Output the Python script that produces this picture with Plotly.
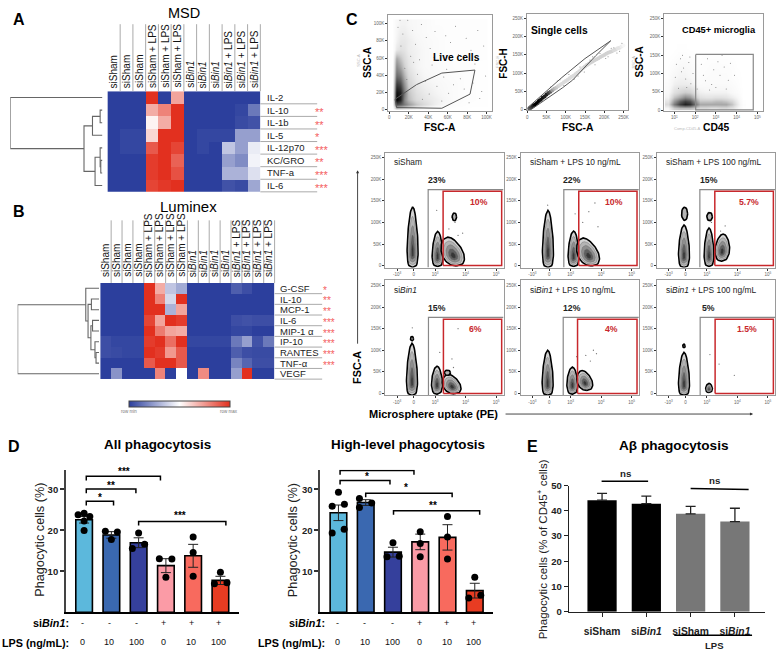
import math
import plotly.graph_objects as go

W, H = 777, 656
FONT = "Liberation Sans"

# ---------- DATA ----------
msd_rows = ["IL-2", "IL-10", "IL-1b", "IL-5", "IL-12p70", "KC/GRO", "TNF-a", "IL-6"]
msd_stars = ["", "**", "**", "*", "***", "**", "***", "***"]
msd_cols = ["siSham"] * 3 + ["siSham + LPS"] * 3 + ["si<i>Bin1</i>"] * 3 + ["si<i>Bin1</i> + LPS"] * 3
msd_z = [
    [0, 0, 0, 1, 0, .72, 0, 0, 0, 0, 0, 0],
    [0, 0, 0, .7, .8, 1, 0, 0, 0, 0, .02, .15],
    [0, 0, 0, .53, .7, 1, 0, 0, 0, 0, .03, .05],
    [0, .02, .02, .6, 1, 1, 0, .02, .02, .02, .25, .25],
    [0, .02, .02, .9, 1, .95, 0, .02, 0, .35, .25, .45],
    [0, 0, 0, .97, 1, .88, 0, 0, 0, .25, .2, .47],
    [0, 0, 0, .97, 1, .92, 0, 0, 0, .3, .3, .42],
    [0, 0, 0, .95, .98, 1, 0, 0, 0, .05, .03, .27],
]
msd_tree = (1.0, 0, (.2, (.108, (.025, 1, 2), 3), (.08, (.025, 4, (.018, 5, 6)), 7)))

lum_rows = ["G-CSF", "IL-10", "MCP-1", "IL-6", "MIP-1 α", "IP-10", "RANTES", "TNF-α", "VEGF"]
lum_stars = ["*", "**", "**", "***", "***", "***", "***", "***", ""]
lum_cols = ["siSham"] * 4 + ["siSham + LPS"] * 4 + ["si<i>Bin1</i>"] * 4 + ["si<i>Bin1</i> + LPS"] * 4
lum_z = [
    [0, 0, 0, 0, 1, .7, .35, .28, 0, 0, 0, 0, .08, .04, 0, 0],
    [0, 0, 0, 0, 1, .8, .4, 1, 0, 0, 0, 0, 0, 0, 0, 0],
    [0, 0, 0, 0, 1, 1, .3, .72, 0, 0, 0, 0, 0, 0, 0, 0],
    [0, 0, 0, 0, .95, .72, 1, .97, 0, 0, 0, 0, .04, .05, .04, .04],
    [0, 0, 0, 0, 1, .82, .72, .7, 0, 0, 0, 0, .02, .02, 0, 0],
    [.04, .02, .02, .02, .97, 1, .85, 1, .02, .02, .02, .02, .15, .25, .05, .15],
    [.04, .03, .02, .02, 1, .97, .75, .9, 0, 0, 0, 0, .08, .04, .03, .03],
    [0, 0, 0, 0, .9, 1, 1, .9, 0, 0, 0, 0, .18, .1, .04, .04],
    [0, .22, 0, 0, 0, .8, 0, .5, 0, .78, 0, 0, .25, 1, 0, 0],
]
lum_tree = (1.0, 8, (.163, 0, (.135, (.094, 1, 2), (.10, (.08, 3, 4), (.05, 5, (.037, 6, 7))))))

live_x = [3, 7, 11, 15, 20, 28, 36, 46, 56, 66, 76, 86, 96]
live_y = [2, 6, 12, 20, 30, 40, 50, 60, 70, 80, 90, 100]
live_density = [
    [0, .4, .35, .3, .25, .15, .1, .05, .03, .01, .01, 0, 0],
    [0, .75, .7, .6, .5, .35, .25, .15, .08, .04, .02, .01, .01],
    [0, 1, .9, .55, .38, .25, .2, .15, .1, .05, .03, .02, .01],
    [0, .95, .9, .6, .35, .22, .17, .12, .08, .05, .03, .02, .01],
    [0, .8, .75, .5, .3, .18, .13, .1, .07, .05, .03, .02, .01],
    [0, .65, .6, .4, .25, .15, .1, .07, .05, .04, .03, .02, .01],
    [0, .55, .45, .3, .2, .12, .08, .06, .04, .03, .02, .02, .01],
    [0, .45, .35, .25, .18, .12, .08, .05, .04, .03, .02, .02, .02],
    [0, .18, .22, .2, .15, .12, .08, .05, .03, .03, .02, .02, .02],
    [0, .12, .18, .18, .15, .1, .07, .05, .03, .03, .02, .02, .02],
    [0, .1, .15, .15, .12, .08, .06, .04, .03, .03, .02, .02, .02],
    [0, .08, .12, .12, .1, .08, .06, .03, .03, .02, .02, .02, .02],
]
live_speck_x = [9, 14, 19, 24, 27, 33, 38, 42, 47, 52, 58, 63, 68, 74, 79, 84, 91, 97, 12, 22, 31, 44, 56, 71,
                86, 16, 29, 37, 49, 61, 77, 93, 11, 25, 41, 54, 66, 82, 99, 18, 34, 46, 59, 73, 88, 95]
live_speck_y = [96, 88, 104, 92, 76, 99, 84, 71, 91, 63, 86, 78, 97, 59, 83, 69, 92, 74, 74, 62, 58, 52, 38, 64,
                31, 48, 41, 33, 27, 19, 24, 13, 104, 55, 18, 10, 29, 8, 39, 35, 12, 61, 47, 36, 53, 21]
live_gate_x = [6, 28, 54, 88, 83, 54, 7.5, 6]
live_gate_y = [12, 29, 42.5, 46, 18, 1.5, 2.3, 12]

single_x = [5, 10, 15, 20, 25, 30, 35, 40, 45, 50, 55, 60, 65, 70, 75, 80, 85, 90, 95, 100, 105, 110, 115, 120, 125,
            130, 135, 140, 145, 150, 155, 160, 165, 170, 175, 180, 185, 190, 195, 200, 205, 210, 215, 220, 225, 230, 235, 240, 245, 250]
single_y = [3, 6, 10, 14, 18, 23, 27, 32, 36, 41, 45, 49, 53, 57, 60, 64, 67, 71, 75, 78, 82, 86, 90, 93, 97,
            101, 105, 109, 114, 118, 122, 126, 129, 132, 135, 138, 141, 144, 147, 150, 153, 156, 158, 160, 163, 165, 168, 170, 173, 176]
single_density = [.7, .8, .9, 1, 1, 1, .95, .95, .9, .9, .8, .7, .5, .4, .35, .3, .25, .25, .25, .25, .25, .25, .25, .25, .25,
                  .25, .25, .25, .25, .3, .3, .3, .3, .3, .3, .3, .3, .3, .3, .3, .3, .3, .3, .3, .25, .25, .2, .2, .15, .1]
single_speck_x = [60, 78, 95, 108, 122, 137, 148, 163, 176, 189, 204, 218, 233, 246, 85, 132, 170, 210, 240, 225]
single_speck_y = [62, 78, 66, 96, 84, 117, 103, 136, 123, 154, 140, 168, 155, 182, 82, 92, 145, 145, 160, 170]
single_gate_x = [2, 90, 150, 217, 178, 118, 92, 10, 2]
single_gate_y = [6, 88, 140, 189, 148, 81, 60, 0, 6]

cd45_x = [.7, 1.0, 1.25, 1.5, 1.75, 2.0, 2.25, 2.5, 2.75, 3.0, 3.25, 3.5, 3.75, 4.0, 4.3]
cd45_y = [5, 15, 25, 35, 50, 70, 90, 110, 130, 150, 170]
cd45_density = [
    [.1, .3, .35, .35, .35, .3, .25, .25, .22, .22, .25, .25, .2, .12, 0],
    [.25, .6, .8, .9, .85, .65, .45, .45, .45, .45, .45, .45, .35, .18, .02],
    [.2, .5, .7, .8, .75, .55, .35, .35, .35, .38, .38, .35, .28, .15, .01],
    [.12, .35, .45, .55, .5, .35, .22, .2, .2, .22, .22, .2, .15, .1, 0],
    [.08, .22, .28, .32, .3, .22, .14, .12, .12, .12, .12, .12, .08, .05, 0],
    [.05, .14, .16, .16, .15, .1, .06, .06, .07, .07, .07, .07, .05, .03, 0],
    [.03, .1, .12, .12, .1, .06, .03, .04, .05, .05, .05, .05, .03, .02, 0],
    [.02, .06, .1, .1, .08, .04, .02, .03, .04, .05, .04, .04, .03, .01, 0],
    [.01, .03, .06, .07, .05, .02, .01, .02, .03, .03, .03, .03, .02, 0, 0],
    [0, .01, .03, .03, .02, .01, 0, .01, .01, .01, .01, .01, 0, 0, 0],
    [0, 0, .01, .01, 0, 0, 0, 0, 0, 0, 0, 0, 0, 0, 0],
]
cd45_speck_x = [1.1, 1.3, 1.45, 1.7, 1.9, 1.05, 1.55, 1.35, 1.8, 2.3, 2.6, 2.9, 3.1, 3.4, 3.7, 3.9, 2.5, 2.8, 3.2, 3.6,
                1.2, 1.6, 2.1, 2.7, 3.0, 3.5, 1.4, 1.75, 2.4, 3.3]
cd45_speck_y = [125, 140, 115, 130, 100, 90, 85, 105, 72, 125, 140, 110, 132, 118, 128, 95, 80, 70, 95, 82,
                60, 62, 58, 55, 62, 58, 150, 145, 95, 150]
cd45_gate_x = [2.03, 4.8, 4.8, 2.03, 2.03]
cd45_gate_y = [152, 152, 1, 1, 152]

flow_names = ["siSham", "siSham + LPS 10 ng/mL", "siSham + LPS 100 ng/mL",
              "si<i>Bin1</i>", "si<i>Bin1</i> + LPS 10 ng/mL", "si<i>Bin1</i> + LPS 100 ng/mL"]
flow_outer_pct = ["23%", "22%", "15%", "15%", "12%", "5%"]
flow_high_pct = ["10%", "10%", "5.7%", "6%", "4%", "1.5%"]
flow_outer_gate = [.47, .48, .47, .48, .46, .48]
flow_red_gate = [.96, .97, .96, .97, .93, .97]
# each population: centre, bottom, top, half-width, peak position, lean
flow_populations = [
    [(-.04, -4.5, 136, .18, .55, 0), (.78, -2, 79, .18, .6, 0), (1.3, -1, 66, .36, .8, -.28)],
    [(-.04, -4.5, 128, .18, .55, 0), (.8, -2, 80, .18, .6, 0), (1.3, -1, 64, .35, .8, -.28)],
    [(-.05, -4.5, 94, .18, .6, 0), (.77, -2, 87, .16, .6, 0), (1.2, 10, 73, .24, .8, .05)],
    [(-.06, -4.5, 116, .18, .55, 0), (.76, -2, 63, .18, .7, 0), (1.26, -1, 44, .29, .8, -.2)],
    [(-.05, -4.5, 100, .18, .55, 0), (.76, -2, 61, .18, .7, 0), (1.18, 7, 53, .25, .8, -.15)],
    [(-.05, -4.5, 95, .18, .55, 0), (.77, 2, 23, .11, .8, 0)],
]
# small separate islands: centre, bottom, top, half-width
flow_islands = [
    [(1.33, 104, 122, .07)],
    [],
    [(-.03, 105, 135, .1), (.79, 104, 123, .09)],
    [(-.06, 122, 132, .05), (1.1, 42, 54, .1)],
    [],
    [(-.05, 106, 114, .04)],
]
flow_dots_x = [[.75, 1.15, 1.35, 1.45, 1.6, 1.25], [-.05, .85, 1.1, 1.3, 1.5, 1.6], [.85, 1.3, 1.15],
               [-.05, .85, 1.25, 1.45, 1.3], [.9, 1.2, 1.35, 1.45, 1.55], [.8, 1.1, 1.6]]
flow_dots_y = [[128, 85, 100, 70, 75, 112], [140, 120, 100, 125, 145, 90], [100, 92, 80],
               [152, 95, 80, 150, 60], [85, 88, 75, 100, 92], [90, 68, 42]]

sibin_signs = ["-", "-", "-", "+", "+", "+"]
lps_doses = ["0", "10", "100", "0", "10", "100"]
bar_colors = ["#5cb8dc", "#3a68b0", "#35409c", "#fb9ba6", "#f86a5e", "#e83c22"]

all_vals = [22.6, 18.9, 17.0, 11.4, 13.8, 7.8]
all_err = [.8, .8, 1.2, 1.7, 2.8, 1.0]
all_pts_x = [-.22, 0, .21, 0, 0, .78, 1.22, 1, 2, 2.22, 1.77, 2.76, 3.22, 3, 4, 4, 4, 5, 4.78, 5.24]
all_pts_y = [23.8, 24.2, 23.4, 20, 22.3, 19.8, 19.6, 17.8, 19.4, 16.6, 15.6, 13.1, 13, 8.6, 18.4, 14.6, 8.8, 9.8, 7, 7.2]
all_brk = [(.08, 1.08, 27.1), (.08, 1.9, 30.1), (.08, 2.8, 33.2), (2.0, 5.2, 22.2)]
all_brk_lab = [("*", .57, 28.1), ("**", 1.0, 31), ("***", 1.48, 34.3), ("***", 3.5, 23.6)]

high_vals = [24.3, 26.8, 14.7, 17.2, 18.3, 5.3]
high_err = [1.9, .7, 1.2, 1.9, 3.1, 1.8]
high_pts_x = [0, -.23, .22, -.23, .21, .77, 1.22, .77, 2, 1.78, 2.23, 3, 3, 3, 4, 4, 4, 5, 4.78, 5.22]
high_pts_y = [29.3, 25.9, 26.4, 19.4, 20.3, 27.8, 26.7, 25.6, 17, 13.6, 13.7, 19.7, 16.8, 13.6, 23.4, 18.4, 13, 8.6, 3.5, 4.2]
high_brk = [(.06, 1.89, 32.2), (.06, 2.77, 34.6), (1.0, 4.17, 29.1), (2.02, 5.18, 24.8)]
high_brk_lab = [("*", 1.04, 33.2), ("*", 1.5, 36.2), ("*", 2.48, 30.4), ("**", 3.46, 26.1)]

ab_labels = ["siSham", "si<i>Bin1</i>", "siSham", "si<i>Bin1</i>"]
ab_vals = [44.2, 42.8, 38.8, 35.7]
ab_err = [2.7, 3.0, 2.9, 5.3]
ab_colors = ["#000000", "#000000", "#777777", "#777777"]
ab_ns_x = [[-.01, 1.04], [2.0, 3.31]]
ab_ns_y = [[51.7, 51.7], [48.8, 48.4]]

# ---------- HELPERS ----------
fig = go.Figure()
layout = {}
anns = []
shapes = []
naxes = [0]
BLUE, RED = "#2c3f9d", "#e2301f"
SCALE = [[0, BLUE], [.5, "#ffffff"], [1, RED]]


def axes(x0, x1, y0, y1, xr, yr, xo=None, yo=None):
    naxes[0] += 1
    n = naxes[0]
    xa = dict(domain=[x0 / W, x1 / W], range=xr, anchor=f"y{n}", showgrid=False, zeroline=False, visible=False)
    ya = dict(domain=[1 - y1 / H, 1 - y0 / H], range=yr, anchor=f"x{n}", showgrid=False, zeroline=False, visible=False)
    xa.update(xo or {})
    ya.update(yo or {})
    layout[f"xaxis{n}"] = xa
    layout[f"yaxis{n}"] = ya
    return f"x{n}", f"y{n}"


def text(px, py, s, size=10, color="#000000", bold=False, angle=0, anchor="center"):
    if bold:
        s = f"<b>{s}</b>"
    anns.append(dict(x=px / W, y=1 - py / H, xref="paper", yref="paper", text=s, showarrow=False,
                     xanchor=anchor, yanchor="middle", textangle=angle,
                     font=dict(size=size, color=color, family=FONT), borderpad=0, borderwidth=0))


def line(x0, y0, x1, y1, color="#999999", width=1):
    shapes.append(dict(type="line", xref="paper", yref="paper", x0=x0 / W, x1=x1 / W,
                       y0=1 - y0 / H, y1=1 - y1 / H, line=dict(color=color, width=width)))


def tree_segments(node, xs, ys):
    if not isinstance(node, tuple):
        return node, 0.0
    h, a, b = node
    ya, ha = tree_segments(a, xs, ys)
    yb, hb = tree_segments(b, xs, ys)
    xs.extend([ha, h, h, hb, None])
    ys.extend([ya, ya, yb, yb, None])
    return (ya + yb) / 2, h


def heat_panel(z, rows, cols, stars, tree, x0, x1, y0, y1, dleft, dright, head_top, head_bottom,
               lab_x, line_end, star_x, star_size, showscale=False):
    nr, nc = len(rows), len(cols)
    ax, ay = axes(x0, x1, y0, y1, [-.5, nc - .5], [nr - .5, -.5])
    if showscale:
        extra = dict(showscale=True, colorbar=dict(orientation="h", x=128 / W, y=1 - 401.5 / H, xanchor="left",
                                                   yanchor="top", lenmode="pixels", len=101, thicknessmode="pixels",
                                                   thickness=6, outlinewidth=1, outlinecolor="#444444", xpad=0, ypad=0,
                                                   showticklabels=False, ticks=""))
    else:
        extra = dict(showscale=False)
    fig.add_trace(go.Heatmap(z=z, x=list(range(nc)), y=list(range(nr)), colorscale=SCALE, zmin=0, zmax=1,
                             xaxis=ax, yaxis=ay, **extra))
    cw = (x1 - x0) / nc
    rh = (y1 - y0) / nr
    for i, c in enumerate(cols):
        xr = x0 + cw * (i + 1)
        line(xr, head_top, xr, y0, "#aaaaaa", 1)
        text(xr - cw * .5, head_bottom, c, 10, "#111111", angle=-90)
        anns[-1]["yanchor"] = "bottom"
    for j, r in enumerate(rows):
        yc = y0 + rh * (j + .5)
        text(lab_x, yc, r, 9.5, "#222222", anchor="left")
        if stars[j]:
            text(star_x, yc + 2, stars[j], star_size, "#f46060", anchor="left")
        line(x1, y0 + rh * (j + 1), line_end, y0 + rh * (j + 1), "#aaaaaa", 1)
    dx, dy = axes(dleft, dright, y0, y1, [1, 0], [nr - .5, -.5])
    xs, ys = [], []
    tree_segments(tree, xs, ys)
    fig.add_trace(go.Scatter(x=xs, y=ys, mode="lines", line=dict(color="#666666", width=1.1),
                             xaxis=dx, yaxis=dy, hoverinfo="skip"))


def flow_axes(x0, x1, y0, y1, xr, yr, xticks, xlabels, yticks, ylabels):
    base = dict(visible=True, showline=True, linecolor="#9a9a9a", linewidth=1.2, mirror=True,
                ticks="outside", ticklen=2, tickwidth=.7, tickcolor="#333333",
                tickfont=dict(size=4.5, color="#666666", family=FONT))
    xo = dict(base, tickmode="array", tickvals=xticks, ticktext=xlabels)
    yo = dict(base, tickmode="array", tickvals=yticks, ticktext=ylabels)
    return axes(x0, x1, y0, y1, xr, yr, xo, yo)


GRAYS = ["#d4d4d4", "#b4b4b4", "#8e8e8e", "#606060", "#363636"]


def population(pop, ax, ay):
    xc, yb, yt, hw, p, lean = pop
    steps = [i / 30 for i in range(31)]
    ts = steps + steps[::-1]
    side = [1] * 31 + [-1] * 31
    tc = (.5 ** (1 / p)) * .8
    yc = yb + (yt - yb) * tc
    for lvl, s in enumerate([1, .8, .6, .4, .22]):
        xs = [xc + s * (sd * hw * math.sin(math.pi * t ** p) ** .5 + lean * (t - tc)) for t, sd in zip(ts, side)]
        ys = [yc + s * (yb + (yt - yb) * t - yc) for t in ts]
        fig.add_trace(go.Scatter(x=xs, y=ys, mode="lines", fill="toself", fillcolor=GRAYS[lvl],
                                 line=dict(color="#000000" if lvl == 0 else "#666666", width=1.6 if lvl == 0 else .4),
                                 xaxis=ax, yaxis=ay, hoverinfo="skip"))


def island(isl, ax, ay):
    xc, yb, yt, hw = isl
    ym, ry = (yb + yt) / 2, (yt - yb) / 2
    ang = [2 * math.pi * i / 24 for i in range(25)]
    fig.add_trace(go.Scatter(x=[xc + hw * math.cos(a) for a in ang], y=[ym + ry * math.sin(a) for a in ang],
                             mode="lines", fill="toself", fillcolor="#b5b5b5", line=dict(color="#000000", width=1.6),
                             xaxis=ax, yaxis=ay, hoverinfo="skip"))


def speckle(xs, ys, ax, ay, color="#777777", size=1):
    fig.add_trace(go.Scatter(x=xs, y=ys, mode="markers", marker=dict(size=size, color=color, line=dict(width=0)),
                             xaxis=ax, yaxis=ay, hoverinfo="skip"))


def bar_panel(vals, err, px_, py_, brk, brk_lab, x0, x1, ytitle_x, title, title_x, lab_right, off):
    y0, y1 = 471.7, 616.7
    ax, ay = axes(x0, x1, y0, y1, [-.67, 5.67], [0, 34.8],
                  dict(visible=True, showline=True, linecolor="#000000", linewidth=1.5, showticklabels=False, ticks=""),
                  dict(visible=True, showline=True, linecolor="#444444", linewidth=1.5, ticks="outside", ticklen=4,
                       tickwidth=1.5, tickcolor="#333333", tickmode="array", tickvals=[10, 20, 30],
                       tickfont=dict(size=9.5, color="#222222", family=FONT, weight="bold")))
    fig.add_trace(go.Bar(x=list(range(6)), y=vals, width=.61, marker=dict(color=bar_colors, line=dict(color="#000000", width=1.6)),
                         error_y=dict(type="data", array=err, color="#222222", thickness=1, width=5),
                         xaxis=ax, yaxis=ay))
    fig.add_trace(go.Scatter(x=px_, y=py_, mode="markers", marker=dict(color="#000000", size=7), xaxis=ax, yaxis=ay))
    bx, by = [], []
    for a, b, h in brk:
        bx += [a, a, b, b, None]
        by += [h - 1, h, h, h - 1, None]
    fig.add_trace(go.Scatter(x=bx, y=by, mode="lines", line=dict(color="#000000", width=1.5), xaxis=ax, yaxis=ay))
    for s, xv, yv in brk_lab:
        anns.append(dict(x=xv, y=yv, xref=ax, yref=ay, text=f"<b>{s}</b>", showarrow=False, yanchor="middle",
                         font=dict(size=10, color="#000000", family=FONT)))
    for i in range(6):
        anns.append(dict(x=i - off, y=1 - 628 / H, xref=ax, yref="paper", text=sibin_signs[i], showarrow=False,
                         yanchor="middle", font=dict(size=9, color="#111111", family=FONT)))
        anns.append(dict(x=i - off, y=1 - 647 / H, xref=ax, yref="paper", text=lps_doses[i], showarrow=False,
                         yanchor="middle", font=dict(size=9, color="#111111", family=FONT)))
    text(lab_right, 628, "si<i>Bin1</i>:", 10.8, bold=True, anchor="right")
    text(lab_right, 648, "LPS (ng/mL):", 10.8, bold=True, anchor="right")
    text(ytitle_x, 543, "Phagocytic cells (%)", 12.7, "#222222", angle=-90)
    text(title_x, 446, title, 13.4, bold=True)


# ---------- PANELS A, B ----------
heat_panel(msd_z, msd_rows, msd_cols, msd_stars, msd_tree, 106.7, 260, 86.7, 189, 9.3, 101.7, 18.5, 83.5, 267, 317, 315, 11)
heat_panel(lum_z, lum_rows, lum_cols, lum_stars, lum_tree, 99.5, 274.3, 281.7, 379.5, 16.7, 98.3, 218, 275.5, 280, 322, 323, 10,
           showscale=True)
text(128, 412, "row min", 4.5, "#777777")
text(229, 412, "row max", 4.5, "#777777")

# ---------- PANEL C, top ----------
ks50 = [0, 50, 100, 150, 200, 250]
ks50t = ["0", "50K", "100K", "150K", "200K", "250K"]
ax, ay = flow_axes(388.3, 492.7, 9.3, 106.7, [-1, 106], [-1.6, 110], [0, 20, 40, 60, 80, 100],
                   ["0", "20K", "40K", "60K", "80K", "100K"], [0, 20, 40, 60, 80, 100],
                   ["0", "20K", "40K", "60K", "80K", "100K"])
GS = [[0, "#ffffff"], [.1, "#f7f7f7"], [.3, "#d2d2d2"], [.6, "#7c7c7c"], [1, "#000000"]]
fig.add_trace(go.Heatmap(x=live_x, y=live_y, z=live_density, colorscale=GS, zmin=0, zmax=1, zsmooth="best",
                         showscale=False, xaxis=ax, yaxis=ay))
speckle(live_speck_x, live_speck_y, ax, ay)
fig.add_trace(go.Scatter(x=live_gate_x, y=live_gate_y, mode="lines", line=dict(color="#555555", width=1), xaxis=ax, yaxis=ay))

ax, ay = flow_axes(527.3, 628.7, 8.3, 106, [-1, 262], [-2, 262], ks50, ks50t, ks50, ks50t)
fig.add_trace(go.Scatter(x=single_x, y=single_y, mode="markers",
                         marker=dict(size=4, color=single_density, colorscale=GS, cmin=0, cmax=1, line=dict(width=0)),
                         xaxis=ax, yaxis=ay))
speckle(single_speck_x, single_speck_y, ax, ay)
fig.add_trace(go.Scatter(x=single_gate_x, y=single_gate_y, mode="lines", line=dict(color="#555555", width=1), xaxis=ax, yaxis=ay))

ax, ay = flow_axes(665, 764, 8.3, 106.7, [.52, 5.27], [-2, 262], [1, 2, 3, 4, 5],
                   ["10<sup>1</sup>", "10<sup>2</sup>", "10<sup>3</sup>", "10<sup>4</sup>", "10<sup>5</sup>"], ks50, ks50t)
fig.add_trace(go.Heatmap(x=cd45_x, y=cd45_y, z=cd45_density, colorscale=GS, zmin=0, zmax=1, zsmooth="best",
                         showscale=False, xaxis=ax, yaxis=ay))
speckle(cd45_speck_x, cd45_speck_y, ax, ay)
fig.add_trace(go.Scatter(x=cd45_gate_x, y=cd45_gate_y, mode="lines", line=dict(color="#888888", width=1.2), xaxis=ax, yaxis=ay))

text(457, 52, "Live cells", 10.3, bold=True)
text(560, 24.5, "Single cells", 10.3, bold=True)
text(720, 24.5, "CD45+ microglia", 9.3, bold=True)
text(440, 124, "FSC-A", 10.3, bold=True)
text(578, 124, "FSC-A", 10.3, bold=True)
text(717, 124, "CD45", 10.3, bold=True)
text(367, 58, "SSC-A", 10, bold=True, angle=-90)
text(503, 58, "FSC-H", 10, bold=True, angle=-90)
text(640, 57, "SSC-A", 10, bold=True, angle=-90)
text(357.5, 55, "SSC-A", 4, "#bbbbbb", angle=-90)
text(497, 57, "FSC-H", 4, "#bbbbbb", angle=-90)
text(634, 57, "SSC-A", 4, "#bbbbbb", angle=-90)
text(688, 124.5, "Comp-CD45-A", 4, "#bbbbbb")

# ---------- PANEL C, grid ----------
cols_px = [385.3, 521, 657.7]
rows_px = [149, 279]
red_label_dx = [93.7, 94, 92.3, 90.7, 91, 90.3]
biex_t = [-.55, 0, .7, 1.7, 2.7]
biex_l = ["-10<sup>3</sup>", "0", "10<sup>3</sup>", "10<sup>4</sup>", "10<sup>5</sup>"]
for k in range(6):
    c, r = k % 3, k // 3
    fx, fy = cols_px[c], rows_px[r]
    ax, ay = flow_axes(fx, fx + 118.5, fy, fy + 117, [-.935, 2.94], [-4.5, 262], biex_t, biex_l, ks50, ks50t)
    speckle(flow_dots_x[k], flow_dots_y[k], ax, ay, "#777777", 1.3)
    for p in flow_populations[k]:
        population(p, ax, ay)
    for isl in flow_islands[k]:
        island(isl, ax, ay)
    og, rg = flow_outer_gate[k], flow_red_gate[k]
    fig.add_trace(go.Scatter(x=[og, og, 2.94], y=[-4.5, 176, 176], mode="lines",
                             line=dict(color="#888888", width=1.2), xaxis=ax, yaxis=ay))
    fig.add_trace(go.Scatter(x=[rg, rg, 2.88, 2.88, rg], y=[0, 172, 172, 0, 0], mode="lines",
                             line=dict(color="#c8282c", width=1.5), xaxis=ax, yaxis=ay))
    text(fx + 9, fy + 9.5, flow_names[k], 8.4, "#222222", anchor="left")
    px0 = fx + 28.7 + og * 30.7
    text(px0 + 8.5, fy + 28, flow_outer_pct[k], 8.7, "#222222", bold=True)
    text(fx + red_label_dx[k], fy + 50, flow_high_pct[k], 8.7, "#c8282c", bold=True)

text(357, 368, "FSC-A", 10.8, bold=True, angle=-90)
text(433.5, 415, "Microsphere uptake (PE)", 11, bold=True)
anns.append(dict(x=754 / W, y=1 - 415 / H, xref="paper", yref="paper", ax=-249, ay=0, axref="pixel", ayref="pixel",
                 text="", showarrow=True, arrowhead=2, arrowsize=.7, arrowwidth=.9, arrowcolor="#333333"))
anns.append(dict(x=357.5 / W, y=1 - 167 / H, xref="paper", yref="paper", ax=0, ay=175, axref="pixel", ayref="pixel",
                 text="", showarrow=True, arrowhead=2, arrowsize=.7, arrowwidth=.9, arrowcolor="#333333"))

# ---------- PANEL D ----------
bar_panel(all_vals, all_err, all_pts_x, all_pts_y, all_brk, all_brk_lab, 65, 238.3, 39, "All phagocytosis", 157, 68, .07)
bar_panel(high_vals, high_err, high_pts_x, high_pts_y, high_brk, high_brk_lab, 320, 493.3, 293, "High-level phagocytosis", 408, 325, .03)

# ---------- PANEL E ----------
ax, ay = axes(569.3, 766, 487.7, 616, [-.75, 3.68], [0, 50],
              dict(visible=True, showline=True, linecolor="#222222", linewidth=1.3, ticks="outside", ticklen=4, tickwidth=1.2,
                   tickcolor="#222222", tickmode="array", tickvals=[0, 1, 2, 3], ticklabelstandoff=6,
                   ticktext=[f"<b>{s}</b>" for s in ab_labels], tickfont=dict(size=10.3, color="#222222", family=FONT)),
              dict(visible=True, showline=True, linecolor="#222222", linewidth=1.3, ticks="outside", ticklen=4, tickwidth=1.2,
                   tickcolor="#222222", tickmode="array", tickvals=[0, 10, 20, 30, 40, 50],
                   tickfont=dict(size=9.5, color="#222222", family=FONT, weight="bold")))
fig.add_trace(go.Bar(x=[0, 1, 2, 3], y=ab_vals, width=.66, marker=dict(color=ab_colors, line=dict(width=0)),
                     error_y=dict(type="data", array=ab_err, arrayminus=[0, 0, 0, 0], symmetric=False,
                                  color="#222222", thickness=1.3, width=5), xaxis=ax, yaxis=ay))
# the ns brackets sit above the 50 tick, so they use an overlay with the same scale and a taller window
nx, ny = axes(569.3, 766, 462, 616, [-.75, 3.68], [0, 50 * 154 / 128.3])
for xs_, ys_ in zip(ab_ns_x, ab_ns_y):
    fig.add_trace(go.Scatter(x=xs_, y=ys_, mode="lines", line=dict(color="#000000", width=1.5), xaxis=nx, yaxis=ny))
text(626.5, 475, "ns", 9.7, "#222222", bold=True)
text(715, 483, "ns", 9.7, "#222222", bold=True)
line(675, 640, 753, 640, "#000000", 1.3)
text(715, 650, "LPS", 9.5, "#222222", bold=True)
text(542, 553, "Phagocytic cells (% of CD45<sup>+</sup> cells)", 11.5, "#222222", angle=-90)
text(675, 447, "Aβ phagocytosis", 13.6, bold=True)

# ---------- TITLES, LETTERS ----------
text(183, 7, "MSD", 14.5)
text(188, 204, "Luminex", 15)
for s, x_, y_ in [("A", 18, 14), ("B", 18, 209), ("C", 352, 14), ("D", 13, 448), ("E", 533, 448)]:
    text(x_, y_, s, 16, bold=True)

fig.update_layout(width=W, height=H, margin=dict(l=0, r=0, t=0, b=0), autosize=False, showlegend=False,
                  paper_bgcolor="#ffffff", plot_bgcolor="rgba(0,0,0,0)", annotations=anns, shapes=shapes, **layout)
fig.write_html("out.html", config={"displayModeBar": False}, post_script="document.body.style.margin='0';")
